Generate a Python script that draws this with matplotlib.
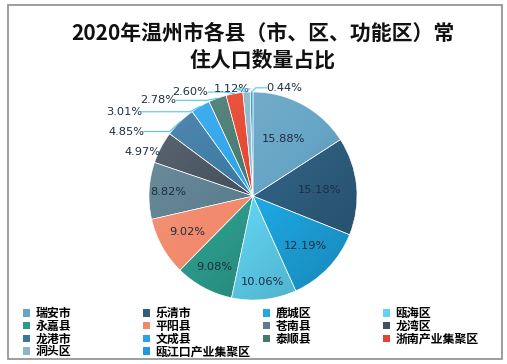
import matplotlib
matplotlib.use("Agg")
import matplotlib.pyplot as plt
import numpy as np
from matplotlib.patches import Patch, Rectangle
from matplotlib.colors import to_rgb, LinearSegmentedColormap

plt.rcParams['font.family'] = ['Noto Sans CJK SC', 'DejaVu Sans']

regions = ['瑞安市', '乐清市', '鹿城区', '瓯海区', '永嘉县', '平阳县', '苍南县',
           '龙湾区', '龙港市', '文成县', '泰顺县', '浙南产业集聚区', '洞头区', '瓯江口产业集聚区']
shares = [15.88, 15.18, 12.19, 10.06, 9.08, 9.02, 8.82, 4.97, 4.85, 3.01, 2.78, 2.60, 1.12, 0.44]
colors = ['#67A5C6', '#2F5F80', '#1EAAE6', '#60D4F2', '#2C998A', '#F2896B', '#5B7D8E',
          '#434F5C', '#3877A2', '#2AA3EC', '#447870', '#E6432E', '#8DB6CC', '#2499DE']
title = '2020年温州市各县（市、区、功能区）常\n住人口数量占比'

W, H = 507, 364
fig = plt.figure(figsize=(W / 100, H / 100), dpi=100)

# frame
fig.add_artist(Rectangle((8 / W, 1 - 359 / H), 494 / W, 354 / H, transform=fig.transFigure,
                         fill=False, edgecolor='#8C8C8C', linewidth=1.2))

cx, cy, R = 253, 196, 104
L = 1.6
ax = fig.add_axes([(cx - R * L) / W, (H - cy - R * L) / H, 2 * R * L / W, 2 * R * L / H])

wedges, _ = ax.pie(shares, colors=colors, startangle=90, counterclock=False,
                   wedgeprops=dict(edgecolor='white', linewidth=0.4))
ax.set_aspect('equal')
ax.axis('off')

# subtle per-slice gradient (lighter toward upper-left, darker toward lower-right)
gx, gy = np.meshgrid(np.linspace(-1, 1, 200), np.linspace(1, -1, 200))
grad = (gx - gy) / 2.0
for w, c in zip(wedges, colors):
    base = np.array(to_rgb(c))
    light = base + (1 - base) * 0.15
    dark = base * 0.78
    cmap = LinearSegmentedColormap.from_list('g', [light, base, dark])
    im = ax.imshow(grad, cmap=cmap, vmin=-1, vmax=1, extent=(-1, 1, -1, 1),
                   interpolation='bilinear', zorder=w.get_zorder() - 0.01)
    im.set_clip_path(w)
    w.set_facecolor('none')
ax.set_xlim(-L, L)
ax.set_ylim(-L, L)

txt_color = '#1C2E44'
inside_r = {0: 0.62, 1: 0.64, 2: 0.70, 3: 0.83, 4: 0.78, 5: 0.72, 6: 0.82}
outside = {7: ((-1.06, 0.42), False), 8: ((-1.22, 0.62), True), 9: ((-1.24, 0.81), True),
           10: ((-0.91, 0.92), True), 11: ((-0.60, 1.00), True), 12: ((-0.20, 1.03), True),
           13: ((0.30, 1.04), True)}

for i, w in enumerate(wedges):
    ang = np.deg2rad((w.theta1 + w.theta2) / 2)
    lab = f'{shares[i]:.2f}%'
    if i in inside_r:
        r = inside_r[i]
        ax.text(r * np.cos(ang), r * np.sin(ang), lab, ha='center', va='center',
                fontsize=8.2, color=txt_color, family=['DejaVu Sans'], zorder=5)
    else:
        (tx, ty), line = outside[i]
        ax.text(tx, ty, lab, ha='center', va='center', fontsize=8.2, color=txt_color,
                family=['DejaVu Sans'], zorder=5)
        if line:
            ex, ey = np.cos(ang), np.sin(ang)
            if tx < 0:
                x0 = tx + 0.17
                ax.plot([x0, ex - 0.10, ex], [ty, ty, ey],
                        color='#56C6EE', lw=0.8, clip_on=False, zorder=5)
            else:
                x0 = tx - 0.17
                ax.plot([ex, ex + 0.04, x0], [ey, ty, ty], color='#56C6EE', lw=0.8,
                        clip_on=False, zorder=5)

fig.text(263 / W, 1 - 47 / H, title, ha='center', va='center', fontsize=15,
         fontweight='bold', linespacing=1.35, color='#111111')

# legend in 4 columns, row-major order
col_x = [23, 143, 263, 383]
ncol = 4
for c in range(ncol):
    idx = list(range(c, len(regions), ncol))
    handles = [Patch(facecolor=colors[i], edgecolor='none') for i in idx]
    fig.legend(handles, [regions[i] for i in idx], loc='upper left',
               bbox_to_anchor=(col_x[c] / W, 1 - 307 / H), frameon=False,
               prop=dict(size=8.6, weight='bold'), handlelength=0.6, handleheight=0.6,
               handletextpad=0.45, labelspacing=-0.02, borderpad=0, borderaxespad=0)

fig.savefig('out.png', dpi=100)
